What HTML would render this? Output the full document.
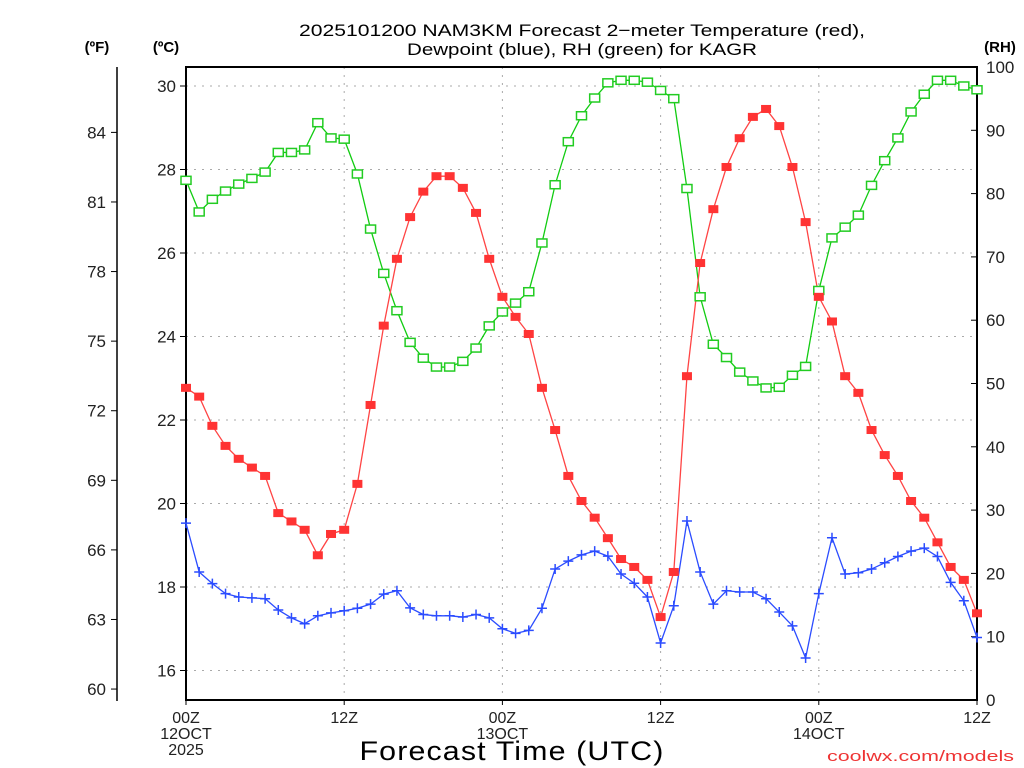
<!DOCTYPE html>
<html><head><meta charset="utf-8"><style>
html,body{margin:0;padding:0;background:#fff;}
svg{display:block;font-family:"Liberation Sans","DejaVu Sans",sans-serif;}
</style></head><body>
<svg id="chart" width="1024" height="768" viewBox="0 0 1024 768" xmlns="http://www.w3.org/2000/svg">
<g>
<text x="582" y="36" font-size="17" text-anchor="middle" textLength="566" lengthAdjust="spacingAndGlyphs">2025101200 NAM3KM Forecast 2−meter Temperature (red),</text>
<text x="582" y="55" font-size="17" text-anchor="middle" textLength="350" lengthAdjust="spacingAndGlyphs">Dewpoint (blue), RH (green) for KAGR</text>
</g>
<text x="97" y="52" font-size="15" font-weight="bold" text-anchor="middle">(ºF)</text>
<text x="166" y="52" font-size="15" font-weight="bold" text-anchor="middle">(ºC)</text>
<text x="1000" y="52" font-size="15" font-weight="bold" text-anchor="middle">(RH)</text>
<g id="grid"></g>
<g id="axes"></g>
<g id="series"></g>
<text x="512" y="760" font-size="27" text-anchor="middle" textLength="305" lengthAdjust="spacingAndGlyphs" letter-spacing="1">Forecast Time (UTC)</text>
<text x="827" y="761" font-size="15" fill="#e33" textLength="187" lengthAdjust="spacingAndGlyphs">coolwx.com/models</text>
</svg>
<script>
const hours = Array.from({length:61},(_, i)=>i);
const tempC = [22.77,22.56,21.86,21.38,21.07,20.86,20.66,19.77,19.57,19.37,18.76,19.27,19.37,20.47,22.36,24.26,25.86,26.86,27.47,27.84,27.84,27.56,26.96,25.86,24.95,24.47,24.06,22.77,21.76,20.66,20.06,19.66,19.17,18.67,18.48,18.17,17.28,18.36,23.05,25.76,27.05,28.06,28.75,29.26,29.45,29.04,28.06,26.74,24.95,24.36,23.05,22.65,21.76,21.16,20.66,20.06,19.66,19.07,18.48,18.17,17.37];
const dewC = [19.53,18.36,18.08,17.84,17.76,17.74,17.72,17.45,17.26,17.12,17.31,17.38,17.43,17.49,17.59,17.83,17.91,17.50,17.34,17.31,17.31,17.28,17.34,17.26,17.00,16.89,16.96,17.49,18.43,18.62,18.77,18.86,18.74,18.31,18.09,17.76,16.66,17.55,19.58,18.36,17.59,17.91,17.88,17.88,17.72,17.40,17.07,16.30,17.84,19.18,18.31,18.34,18.43,18.58,18.73,18.86,18.93,18.73,18.11,17.67,16.79];
const rh = [82.1,77.1,79.1,80.4,81.5,82.4,83.4,86.5,86.5,86.9,91.2,88.8,88.6,83.1,74.4,67.4,61.5,56.5,54.0,52.6,52.6,53.5,55.6,59.1,61.3,62.7,64.5,72.2,81.4,88.2,92.3,95.1,97.5,97.9,97.9,97.6,96.3,95.0,80.8,63.7,56.2,54.1,51.8,50.4,49.3,49.4,51.3,52.7,64.7,73.0,74.7,76.6,81.3,85.2,88.8,92.9,95.7,97.9,97.9,97.0,96.4];
const cTicks = [16,18,20,22,24,26,28,30];
const fTicks = [60,63,66,69,72,75,78,81,84];
const rhTicks = [0,10,20,30,40,50,60,70,80,90,100];
const xTickHours = [0,12,24,36,48,60];
const xTickLabels = ["00Z","12Z","00Z","12Z","00Z","12Z"];
const xDateLabels = [["12OCT","2025"],[],["13OCT"],[],["14OCT"],[]];

const L=186,R=977,T=67,B=700;
const X=h=>L+(h-0)*(R-L)/60;
const YC=c=>86+(30-c)*41.75;
const YF=f=>YC((f-32)/1.8);
const YR=r=>B-r*(B-T)/100;
const NS="http://www.w3.org/2000/svg";
function mk(parent,tag,attrs){const e=document.createElementNS(NS,tag);for(const k in attrs)e.setAttribute(k,attrs[k]);parent.appendChild(e);return e;}
const grid=document.getElementById('grid'),axes=document.getElementById('axes'),series=document.getElementById('series');

cTicks.forEach(c=>{const l=mk(grid,'line',{x1:L,x2:R,y1:YC(c),y2:YC(c),stroke:'#aaa','stroke-width':1,'stroke-dasharray':'2,6'});

});
xTickHours.slice(1,-1).forEach(h=>{const l=mk(grid,'line',{x1:X(h),x2:X(h),y1:T,y2:B,stroke:'#aaa','stroke-width':1,'stroke-dasharray':'2,6'});

});

const frame=mk(axes,'rect',{x:L,y:T,width:R-L,height:B-T,fill:'none',stroke:'#000','stroke-width':2});


const fl=mk(axes,'line',{x1:117,x2:117,y1:67,y2:701,stroke:'#000','stroke-width':1.5});



cTicks.forEach(c=>{const y=YC(c);mk(axes,'line',{x1:L-6,x2:L,y1:y,y2:y,stroke:'#000'});
const t=mk(axes,'text',{x:L-10,y:y+6,'font-size':17,'text-anchor':'end',fill:'#222'});t.textContent=c;

});
fTicks.forEach(f=>{const y=YF(f);mk(axes,'line',{x1:111,x2:117,y1:y,y2:y,stroke:'#000'});
const t=mk(axes,'text',{x:106,y:y+6,'font-size':17,'text-anchor':'end',fill:'#222'});t.textContent=f;

});
rhTicks.forEach(r=>{const y=YR(r);mk(axes,'line',{x1:R-6,x2:R,y1:y,y2:y,stroke:'#000'});
const t=mk(axes,'text',{x:R+9,y:y+6,'font-size':17,fill:'#222'});t.textContent=r;

});
xTickHours.forEach((h,i)=>{const x=X(h);mk(axes,'line',{x1:x,x2:x,y1:B,y2:B+5,stroke:'#000'});
const t=mk(axes,'text',{x:x,y:723,'font-size':16,'text-anchor':'middle',fill:'#222'});t.textContent=xTickLabels[i];


xDateLabels[i].forEach((s,j)=>{const d=mk(axes,'text',{x:x,y:739+16*j,'font-size':16,'text-anchor':'middle',fill:'#222'});d.textContent=s;

});});

function line(vals,yf,color,name){const p=mk(series,'polyline',{points:vals.map((v,i)=>X(hours[i])+','+yf(v)).join(' '),fill:'none',stroke:color,'stroke-width':1.3});

}
line(rh,YR,'#1c1','rh-line');
line(tempC,YC,'#f44','temperature-line');
line(dewC,YC,'#2b4cff','dewpoint-line');
rh.forEach((v,i)=>{const r=mk(series,'rect',{x:X(hours[i])-5,y:YR(v)-4,width:10,height:8,fill:'#fff',stroke:'#2c2','stroke-width':1.5});

});
tempC.forEach((v,i)=>{const r=mk(series,'rect',{x:X(hours[i])-5,y:YC(v)-4,width:10,height:8,fill:'#f33'});

});
dewC.forEach((v,i)=>{const x=X(hours[i]),y=YC(v);const p=mk(series,'path',{d:`M${x-5},${y}H${x+5}M${x},${y-5}V${y+5}`,stroke:'#2b4cff','stroke-width':1.5});

});
</script>
</body></html>
